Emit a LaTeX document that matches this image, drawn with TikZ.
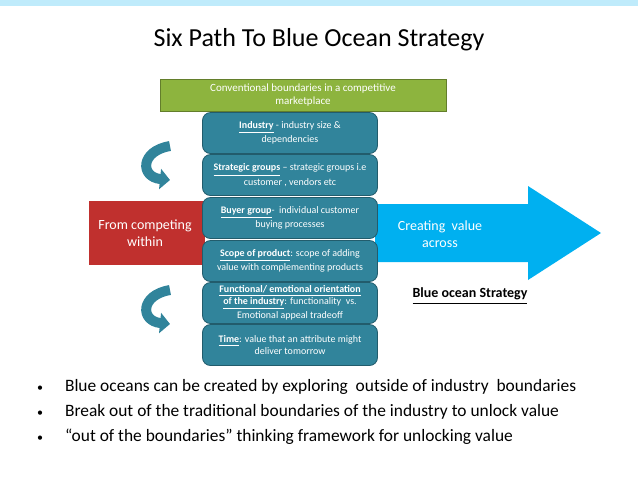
\documentclass[tikz,border=0pt]{standalone}
\usepackage{fontspec}
\setmainfont{Carlito}
\usetikzlibrary{arrows.meta}
\definecolor{pathteal}{HTML}{31849B}
\definecolor{pathgreen}{HTML}{8DB43E}
\definecolor{pathred}{HTML}{C0302E}
\definecolor{oceanblue}{HTML}{00B0F0}
\newcommand{\ul}[1]{\underline{\textbf{#1}}}
\begin{document}
\begin{tikzpicture}[x=0.5pt,y=-0.5pt,
  pathbox/.style={draw=pathteal!70!black, fill=pathteal, rounded corners=4pt, text=white, align=center, font=\fontsize{5}{6}\selectfont, minimum width=87.5pt, minimum height=20.5pt, inner sep=1pt},
  turn/.style={line width=5pt, draw=pathteal, -{Triangle[length=5pt,width=10pt]}}]
	\useasboundingbox (0,0) rectangle (638,479);
	\fill[oceanblue!25] (0,0) rectangle (638,6);
	\node (title) at (319,40) {\fontsize{13}{15}\selectfont Six Path To Blue Ocean Strategy};
	\node[fill=pathgreen, draw=pathgreen!70!black, text=white, align=center, minimum width=143pt, minimum height=16pt, inner sep=0pt, font=\fontsize{5.5}{6.5}\selectfont] (bound) at (303,95) {Conventional boundaries in a competitive\\marketplace};
	\fill[pathred] (89,201) rectangle (205,265);
	\node[text=white, align=center, font=\fontsize{7}{8.5}\selectfont] (within) at (145,233) {From competing\\within};
	\fill[oceanblue] (375,204) -- (528,204) -- (528,186) -- (601,233) -- (528,280) -- (528,262) -- (375,262) -- cycle;
	\node[text=white, align=center, font=\fontsize{7}{8.5}\selectfont] (across) at (440,234) {Creating\ \ value\\across};
	\node[font=\fontsize{7}{8.5}\selectfont] (blue) at (470,296) {\ul{Blue ocean Strategy}};
	\node[pathbox] (p1) at (290,133) {\ul{Industry} - industry size \&\\dependencies};
	\node[pathbox] (p2) at (290,175) {\ul{Strategic groups} -- strategic groups i.e\\customer , vendors etc};
	\node[pathbox] (p3) at (290,218) {\ul{Buyer group}-\ \ individual customer\\buying processes};
	\node[pathbox] (p4) at (290,261) {\ul{Scope of product}: scope of adding\\value with complementing products};
	\node[pathbox] (p5) at (290,303) {\ul{Functional/ emotional orientation}\\\ul{of the industry}: functionality\ \ vs.\\Emotional appeal tradeoff};
	\node[pathbox] (p6) at (290,345) {\ul{Time}: value that an attribute might\\deliver tomorrow};
	\draw[turn] (170,146) .. controls (140,151) and (140,177) .. (170,180);
	\draw[turn] (170,290) .. controls (140,295) and (140,321) .. (170,324);
	\foreach \y/\t in {387/{Blue oceans can be created by exploring\ \ outside of industry\ \ boundaries},
	                  412/{Break out of the traditional boundaries of the industry to unlock value},
	                  437/{“out of the boundaries” thinking framework for unlocking value}}
	  \node[anchor=west, font=\fontsize{8.7}{10}\selectfont] at (30,\y) {{\fontsize{6}{7}\selectfont\textbullet}\hspace{11pt}\t};
\end{tikzpicture}
\end{document}
